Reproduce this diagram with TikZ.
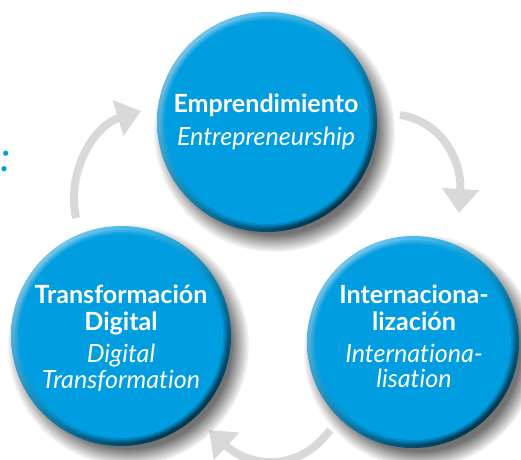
\documentclass[tikz,border=0pt]{standalone}
\usepackage{fontspec}
\setsansfont{Lato}[Ligatures=NoCommon]
\usetikzlibrary{arrows.meta,fadings,shadings,calc}

\definecolor{ballblue}{RGB}{0,158,224}
\definecolor{rimlight}{RGB}{160,218,246}
\definecolor{rimdark}{RGB}{0,20,32}
\definecolor{arrowgray}{RGB}{217,217,217}

\tikzset{every picture/.style={line width=0.75pt}}
\tikzset{
	cyclearrow/.style={draw=arrowgray, line width=6pt, -{Triangle[width=27pt,length=18pt]}},
	rimshade/.style={upper left=rimlight, upper right=ballblue, lower left=ballblue!80!rimdark, lower right=rimdark},
	ballshadow/.style={fill=black, fill opacity=0.55, path fading=circle with fuzzy edge 15 percent},
	titletext/.style={text=white, anchor=base, font=\sffamily\bfseries\fontsize{18.8}{22}\selectfont},
	subtext/.style={text=white, anchor=base, font=\sffamily\itshape\fontsize{18.8}{22}\selectfont}}

\begin{document}
\begin{tikzpicture}[x=0.75pt,y=0.75pt,yscale=-1,xscale=1]
	\useasboundingbox (0,0) rectangle (521,460);

	% Text Node (cut at the left edge)
	\node [anchor=base east, text=ballblue, font=\sffamily\itshape\fontsize{31}{31}\selectfont] (lead) at (16,171) {s:};

	%Centres of the three balls
	\coordinate (emp) at (267,122);
	\coordinate (dig) at (121,336);
	\coordinate (int) at (413,342);

	%Curved Arrows
	\coordinate (a1s) at (400,115);
	\coordinate (a1e) at (459,213);
	\coordinate (a2s) at (330,430);
	\coordinate (a2e) at (209,430);
	\coordinate (a3s) at (76,218);
	\coordinate (a3e) at (141,111);
	\draw [cyclearrow] (a1s) .. controls (445,122) and (462,165) .. (a1e);
	\draw [cyclearrow] (a2s) .. controls (300,472) and (250,468) .. (a2e);
	\draw [cyclearrow] (a3s) .. controls (66,170) and (95,125) .. (a3e);

	%Shape: Balls (shadow, rim, body)
	\foreach \c/\r in {emp/110, dig/110, int/106} {
		\fill [ballshadow] ($(\c)+(7,9)$) circle (\r+11);
		\shade [rimshade] (\c) circle (\r);
		\fill [ballblue, opacity=0.35] (\c) circle (\r-4);
		\fill [ballblue, opacity=0.55] (\c) circle (\r-6);
		\fill [ballblue] (\c) circle (\r-8);
	}

	% Text Node
	\node [titletext] (empT) at (266,113) {Emprendimiento};
	\node [subtext] (empS) at (266,145) {Entrepreneurship};
	% Text Node
	\node [titletext] (digT1) at (121,303) {Transformación};
	\node [titletext] (digT2) at (121,330) {Digital};
	\node [subtext] (digS1) at (121,362) {Digital};
	\node [subtext] (digS2) at (121,388) {Transformation};
	% Text Node
	\node [titletext] (intT1) at (414,303) {Internaciona-};
	\node [titletext] (intT2) at (414,330) {lización};
	\node [subtext] (intS1) at (414,362) {Internationa-};
	\node [subtext] (intS2) at (414,387) {lisation};
\end{tikzpicture}
\end{document}
